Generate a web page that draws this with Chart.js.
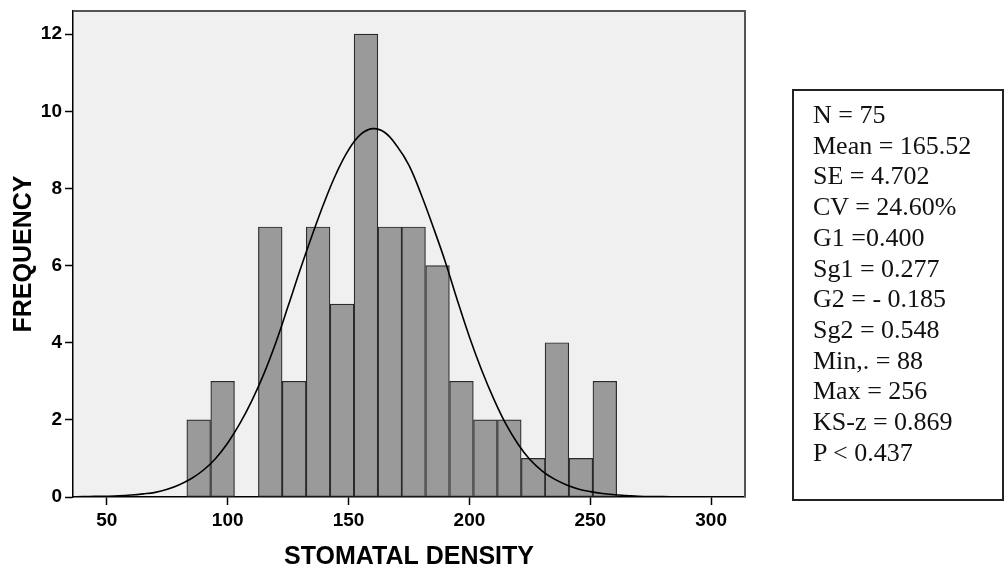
<!DOCTYPE html>
<html>
<head>
<meta charset="utf-8">
<script src="https://cdn.jsdelivr.net/npm/chart.js@4.4.1/dist/chart.umd.min.js"></script>
<style>
  body { margin: 0; background: #fff; }
  #wrap { position: relative; width: 1006px; height: 565px; }
  #stats {
    position: absolute; left: 792px; top: 89px; width: 208px; height: 408px;
    border: 2px solid #222; box-sizing: content-box;
    font-family: "Liberation Serif", "Times New Roman", serif; font-size: 26px;
    line-height: 30.7px; color: #111; padding: 0;
  }
  #stats div { padding-left: 19px; white-space: nowrap; }
  #stats .first { margin-top: 9px; }
</style>
</head>
<body>
<div id="wrap">
  <canvas id="myChart" width="1006" height="565"></canvas>
  <div id="stats"></div>
</div>
<script>
// histogram bins (centre of each bin) and counts
let binCenters = [88.0, 97.9, 107.8, 117.6, 127.5, 137.4, 147.3, 157.2, 167.1, 176.9, 186.8, 196.7, 206.6, 216.5, 226.4, 236.2, 246.1, 256.0]
let counts = [2, 3, 0, 7, 3, 7, 5, 12, 7, 7, 6, 3, 2, 2, 1, 4, 1, 3]

// normal curve, every 5 units
let curveX = [35, 40, 45, 50, 55, 60, 65, 70, 75, 80, 85, 90, 95, 100, 105, 110, 115, 120, 125, 130, 135, 140, 145, 150, 155, 160,
  165, 170, 175, 180, 185, 190, 195, 200, 205, 210, 215, 220, 225, 230, 235, 240, 245, 250, 255, 260, 265, 270, 275, 280, 285, 290, 295, 300, 305, 310, 315]
let curveY = [0.005, 0.01, 0.015, 0.02, 0.03, 0.05, 0.08, 0.12, 0.2, 0.32, 0.48, 0.7, 1.0, 1.4, 1.9, 2.5, 3.2, 4.02, 4.95, 5.9, 6.8, 7.65, 8.4, 9.0, 9.4, 9.55,
  9.45, 9.1, 8.6, 7.85, 7.0, 6.1, 5.1, 4.15, 3.3, 2.55, 1.9, 1.38, 0.97, 0.68, 0.47, 0.32, 0.21, 0.14, 0.09, 0.06, 0.04, 0.02, 0.01, 0.01, 0.005, 0, 0, 0, 0, 0, 0]

let xTicks = [50, 100, 150, 200, 250, 300]
let yTicks = [0, 2, 4, 6, 8, 10, 12]

let statLines = ["N = 75", "Mean = 165.52", "SE = 4.702", "CV = 24.60%", "G1 =0.400", "Sg1 = 0.277",
  "G2 = - 0.185", "Sg2 = 0.548", "Min,. = 88", "Max = 256", "KS-z = 0.869", "P < 0.437"]

let box = document.getElementById("stats")
statLines.forEach((t, i) => {
  let d = document.createElement("div")
  d.textContent = t
  if (i == 0) d.className = "first"
  box.appendChild(d)
})

const plotBg = {
  id: "plotBg",
  beforeDraw(chart) {
    const {ctx, chartArea: a} = chart
    ctx.save()
    ctx.fillStyle = "#f0f0f0"
    ctx.fillRect(a.left, a.top, a.right - a.left, a.bottom - a.top)
    ctx.restore()
  },
  afterDraw(chart) {
    const {ctx, chartArea: a} = chart
    ctx.save()
    ctx.strokeStyle = "#555"
    ctx.lineWidth = 2
    ctx.beginPath()
    ctx.moveTo(a.left, a.top)
    ctx.lineTo(a.right, a.top)
    ctx.lineTo(a.right, a.bottom)
    ctx.stroke()
    ctx.restore()
  }
}

const tickFont = {family: "'Liberation Sans', Arial, sans-serif", size: 19, weight: "bold"}
const titleFont = {family: "'Liberation Sans', Arial, sans-serif", size: 25, weight: "bold"}

new Chart("myChart", {
  data: {
    datasets: [{
      type: "line",
      order: 0,
      data: curveX.map((x, i) => ({x: x, y: curveY[i]})),
      borderColor: "#000",
      borderWidth: 1.6,
      pointRadius: 0,
      tension: 0.4,
      fill: false
    }, {
      type: "bar",
      order: 1,
      data: binCenters.map((x, i) => ({x: x, y: counts[i]})),
      backgroundColor: "#9a9a9a",
      borderColor: "#2a2a2a",
      borderWidth: 1.2,
      borderSkipped: false,
      barPercentage: 1,
      categoryPercentage: 1
    }]
  },
  options: {
    responsive: false,
    animation: false,
    layout: {padding: {top: 11, right: 261, left: 0, bottom: 0}},
    plugins: {legend: {display: false}, tooltip: {enabled: false}},
    scales: {
      x: {
        type: "linear",
        min: 36, max: 314,
        offset: false,
        afterFit: s => { s.height = 68; s.paddingLeft = 0; s.paddingRight = 0 },
        afterBuildTicks: s => { s.ticks = xTicks.map(v => ({value: v})) },
        grid: {offset: false, drawOnChartArea: false, drawTicks: true, tickLength: 8, color: "#000", tickWidth: 1.5},
        border: {color: "#000", width: 1.5},
        ticks: {color: "#000", font: tickFont, padding: 4, maxRotation: 0},
        title: {display: true, text: "STOMATAL DENSITY", color: "#000", font: Object.assign({lineHeight: 0.6}, titleFont), padding: 0}
      },
      y: {
        min: 0, max: 12.6,
        afterFit: s => { s.width = 73; s.paddingTop = 0; s.paddingBottom = 0 },
        afterBuildTicks: s => { s.ticks = yTicks.map(v => ({value: v})) },
        grid: {offset: false, drawOnChartArea: false, drawTicks: true, tickLength: 8, color: "#000", tickWidth: 1.5},
        border: {color: "#000", width: 1.5},
        ticks: {color: "#000", font: tickFont, padding: 3},
        title: {display: true, text: "FREQUENCY", color: "#000", font: Object.assign({lineHeight: 1.0}, titleFont), padding: {top: 12, bottom: 0}}
      }
    }
  },
  plugins: [plotBg]
});
</script>
</body>
</html>
